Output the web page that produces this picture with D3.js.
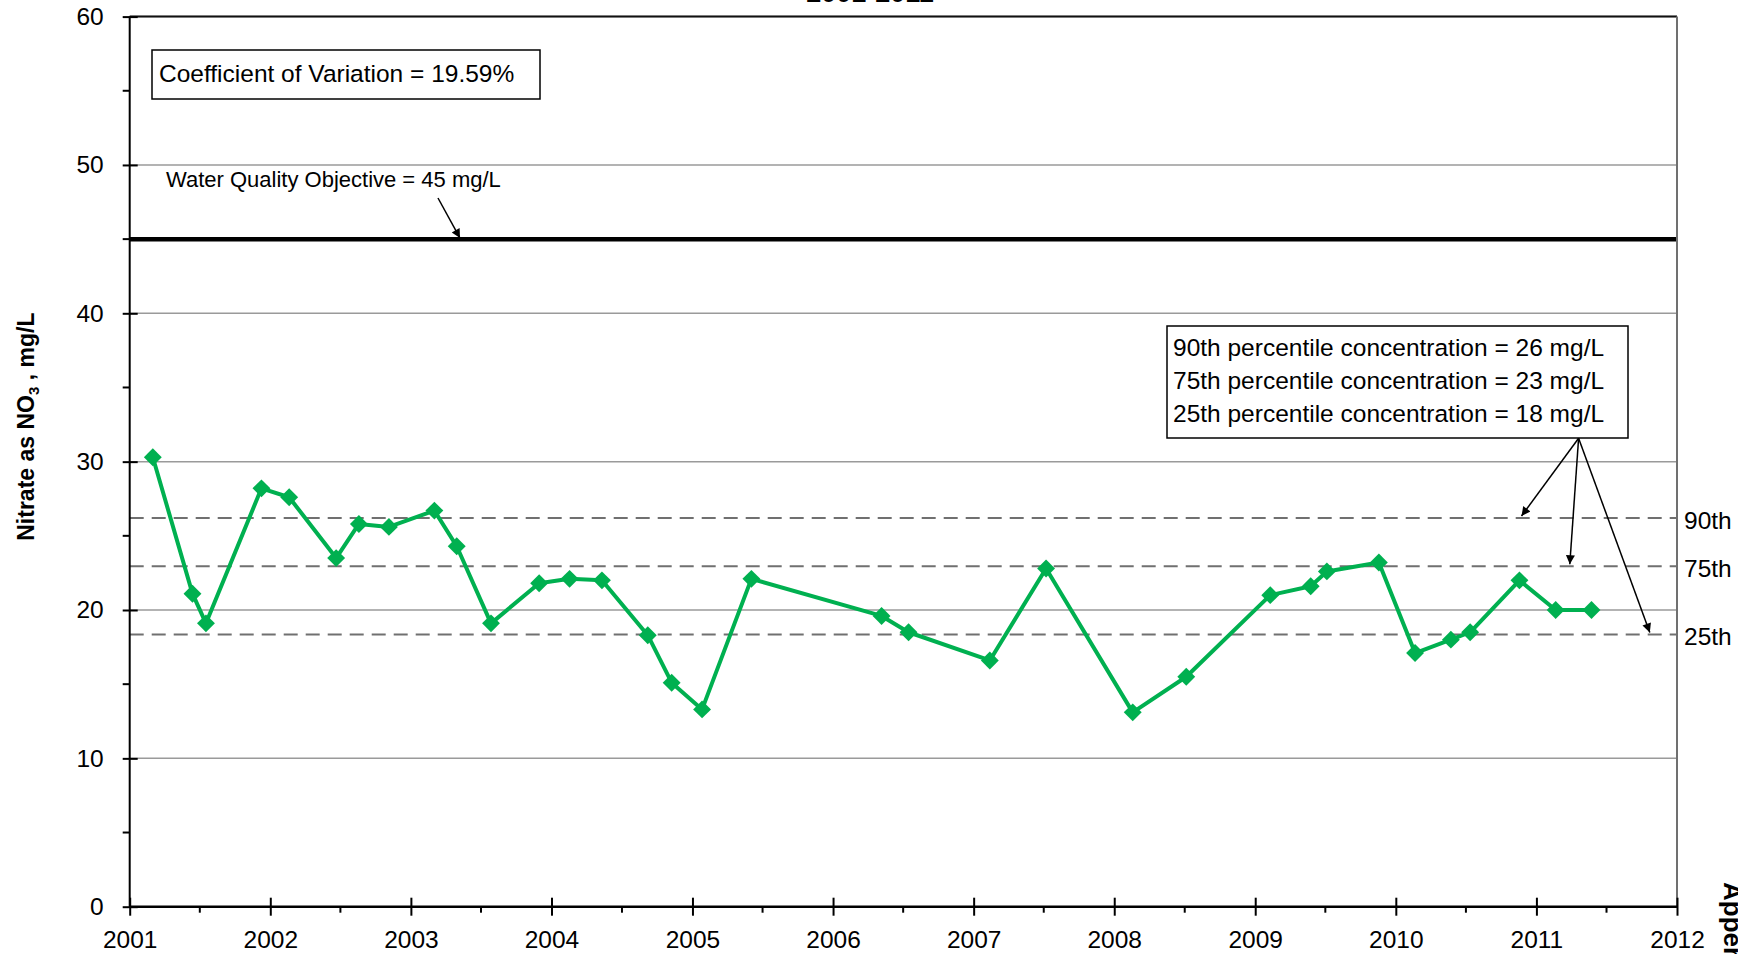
<!DOCTYPE html>
<html><head><meta charset="utf-8">
<script src="https://cdn.jsdelivr.net/npm/d3@7"></script>
<style>
html,body{margin:0;padding:0;background:#fff;overflow:hidden;}
svg{display:block;font-family:"Liberation Sans",Arial,sans-serif;}
</style></head><body>
<svg id="chart" width="1738" height="954"></svg>
<script>
// ---------------- data ----------------
const sampleDates = ["2001-03-02","2001-06-13","2001-07-18","2001-12-09","2002-02-19","2002-06-21","2002-08-19","2002-11-05",
  "2003-03-03","2003-04-30","2003-07-28","2003-11-30","2004-02-17","2004-05-11","2004-09-07","2004-11-08","2005-01-26",
  "2005-06-03","2006-05-07","2006-07-16","2007-02-12","2007-07-08","2008-02-18","2008-07-06","2009-02-09","2009-05-25",
  "2009-07-06","2009-11-18","2010-02-20","2010-05-24","2010-07-13","2010-11-18","2011-02-20","2011-05-24"];
const nitrateValues = [30.3, 21.1, 19.1, 28.2, 27.6, 23.5, 25.8, 25.6, 26.7, 24.3, 19.1, 21.8, 22.1, 22.0, 18.3, 15.1, 13.3,
  22.1, 19.6, 18.5, 16.6, 22.8, 13.1, 15.5, 21.0, 21.6, 22.6, 23.2, 17.1, 18.0, 18.5, 22.0, 20.0, 20.0];
const percentileNames = ["90th", "75th", "25th"];
const percentileValues = [26.2, 22.95, 18.35];
const percentileRounded = [26, 23, 18];
const objectiveValue = 45;
const coefficientText = "19.59%";
const yTicks = [0, 10, 20, 30, 40, 50, 60];
const yMinorTicks = [5, 15, 25, 35, 45, 55];
const xYears = [2001, 2002, 2003, 2004, 2005, 2006, 2007, 2008, 2009, 2010, 2011, 2012];
const titleText = "2001-2011";
const sideText = "Appendix";

// ---------------- setup ----------------
const svg = d3.select("#chart");
const L = 129.7, R = 1677, T = 16.6, B = 906.7;
const parse = d3.timeParse("%Y-%m-%d");
const data = sampleDates.map((d, i) => ({date: parse(d), value: nitrateValues[i]}));
const yearDate = y => new Date(y, 0, 1);

const x = d3.scaleTime().domain([yearDate(2001), yearDate(2012)]).range([L, R]);
const y = d3.scaleLinear().domain([0, 60]).range([B, T]);

const defs = svg.append("defs");
defs.append("marker").attr("id", "arr").attr("viewBox", "0 0 10 10")
  .attr("refX", 10).attr("refY", 5).attr("markerWidth", 13).attr("markerHeight", 9)
  .attr("markerUnits", "userSpaceOnUse").attr("orient", "auto")
  .append("path").attr("d", "M0,0 L10,5 L0,10 z").attr("fill", "#000");

// gridlines
svg.append("g").selectAll("line").data(yTicks.filter(v => v > 0)).join("line")
  .attr("x1", L).attr("x2", R).attr("y1", d => y(d)).attr("y2", d => y(d))
  .attr("stroke", "#9a9a9a").attr("stroke-width", 1.5);

// percentile dashed lines
svg.append("g").selectAll("line").data(percentileValues).join("line")
  .attr("x1", L).attr("x2", R).attr("y1", d => y(d)).attr("y2", d => y(d))
  .attr("stroke", "#707070").attr("stroke-width", 2).attr("stroke-dasharray", "14,8");

// objective line
svg.append("line").attr("x1", L).attr("x2", R).attr("y1", y(objectiveValue)).attr("y2", y(objectiveValue))
  .attr("stroke", "#000").attr("stroke-width", 4.5);

// borders top/right
svg.append("line").attr("x1", L).attr("x2", R).attr("y1", T).attr("y2", T).attr("stroke", "#111").attr("stroke-width", 2);
svg.append("line").attr("x1", R).attr("x2", R).attr("y1", T).attr("y2", B).attr("stroke", "#707070").attr("stroke-width", 2);

// data line
const line = d3.line().x(d => x(d.date)).y(d => y(d.value));
svg.append("path").datum(data).attr("d", line).attr("fill", "none")
  .attr("stroke", "#00b050").attr("stroke-width", 4).attr("stroke-linejoin", "round");

svg.append("g").selectAll("path").data(data).join("path")
  .attr("d", d3.symbol().type(d3.symbolSquare).size(160))
  .attr("transform", d => `translate(${x(d.date)},${y(d.value)}) rotate(45)`)
  .attr("fill", "#00b050");

// y axis
const yAxis = svg.append("g").attr("transform", `translate(${L},0)`)
  .call(d3.axisLeft(y).tickValues(yTicks).tickSize(7).tickPadding(18));
yAxis.select(".domain").attr("stroke", "#000").attr("stroke-width", 2).attr("d", `M0,${T}V${B}`);
yAxis.selectAll(".tick line").attr("x2", -7).attr("x1", 8).attr("stroke", "#000").attr("stroke-width", 2);
yAxis.selectAll(".tick text").attr("font-size", "24.5px").attr("fill", "#000")
  .attr("font-family", '"Liberation Sans",Arial,sans-serif').attr("x", -26);
svg.append("g").selectAll("line").data(yMinorTicks).join("line")
  .attr("x1", L - 7).attr("x2", L).attr("y1", d => y(d)).attr("y2", d => y(d))
  .attr("stroke", "#000").attr("stroke-width", 2);

// x axis
const xAxis = svg.append("g").attr("transform", `translate(0,${B})`)
  .call(d3.axisBottom(x).tickValues(xYears.map(yearDate)).tickFormat(d3.timeFormat("%Y")).tickSize(9).tickPadding(20));
xAxis.select(".domain").attr("stroke", "#000").attr("stroke-width", 2.5).attr("d", `M${L},0H${R}`);
xAxis.selectAll(".tick line").attr("y1", -9).attr("y2", 9).attr("stroke", "#000").attr("stroke-width", 2);
xAxis.selectAll(".tick text").attr("font-size", "24.5px").attr("fill", "#000")
  .attr("font-family", '"Liberation Sans",Arial,sans-serif').attr("dy", 0).attr("y", 41.5);
svg.append("g").selectAll("line").data(xYears.slice(0, -1).map(v => new Date(v, 6, 2))).join("line")
  .attr("x1", d => x(d)).attr("x2", d => x(d)).attr("y1", B).attr("y2", B + 6)
  .attr("stroke", "#000").attr("stroke-width", 2);

// y axis title
const yt = svg.append("text").attr("transform", `translate(34,${(T + B) / 2 - 35}) rotate(-90)`)
  .attr("text-anchor", "middle").attr("font-weight", "bold").attr("font-size", "23px").attr("fill", "#000");
yt.append("tspan").text("Nitrate as NO");
yt.append("tspan").text("3").attr("font-size", "15px").attr("dy", 5);
yt.append("tspan").text(" , mg/L").attr("dy", -5);

// title (cropped at the top edge, as in the reference)
svg.append("text").attr("x", 870).attr("y", 2).attr("text-anchor", "middle")
  .attr("font-weight", "bold").attr("font-size", "27px").text(titleText);

// side text (cropped at the right edge, as in the reference)
svg.append("text").attr("transform", "translate(1724,882) rotate(90)")
  .attr("font-weight", "bold").attr("font-size", "26px").text(sideText);

// coefficient box
svg.append("rect").attr("x", 152).attr("y", 50).attr("width", 388).attr("height", 49)
  .attr("fill", "#fff").attr("stroke", "#000").attr("stroke-width", 1.5);
svg.append("text").attr("x", 159).attr("y", 82).attr("font-size", "24.5px")
  .text(`Coefficient of Variation = ${coefficientText}`);

// objective annotation
svg.append("text").attr("x", 166).attr("y", 187).attr("font-size", "22px")
  .text(`Water Quality Objective = ${objectiveValue} mg/L`);
svg.append("line").attr("x1", 438).attr("y1", 198).attr("x2", 460).attr("y2", y(objectiveValue) - 1)
  .attr("stroke", "#000").attr("stroke-width", 1.5).attr("marker-end", "url(#arr)");

// percentile box
svg.append("rect").attr("x", 1167).attr("y", 326).attr("width", 461).attr("height", 112)
  .attr("fill", "#fff").attr("stroke", "#000").attr("stroke-width", 1.5);
svg.append("g").selectAll("text").data(percentileNames).join("text")
  .attr("x", 1173).attr("y", (d, i) => 356 + i * 33).attr("font-size", "24.5px")
  .text((d, i) => `${d} percentile concentration = ${percentileRounded[i]} mg/L`);

// arrows from box to lines
const arrowTipX = [1521.5, 1569.8, 1649.8];
svg.append("g").selectAll("line").data(percentileValues).join("line")
  .attr("x1", 1578.6).attr("y1", 438.3)
  .attr("x2", (d, i) => arrowTipX[i]).attr("y2", d => y(d) - 2)
  .attr("stroke", "#000").attr("stroke-width", 1.5).attr("marker-end", "url(#arr)");

// right side labels
svg.append("g").selectAll("text").data(percentileValues).join("text")
  .attr("x", 1684).attr("y", d => y(d) + 2).attr("dominant-baseline", "central")
  .attr("font-size", "24.5px").text((d, i) => percentileNames[i]);
</script>
</body></html>
